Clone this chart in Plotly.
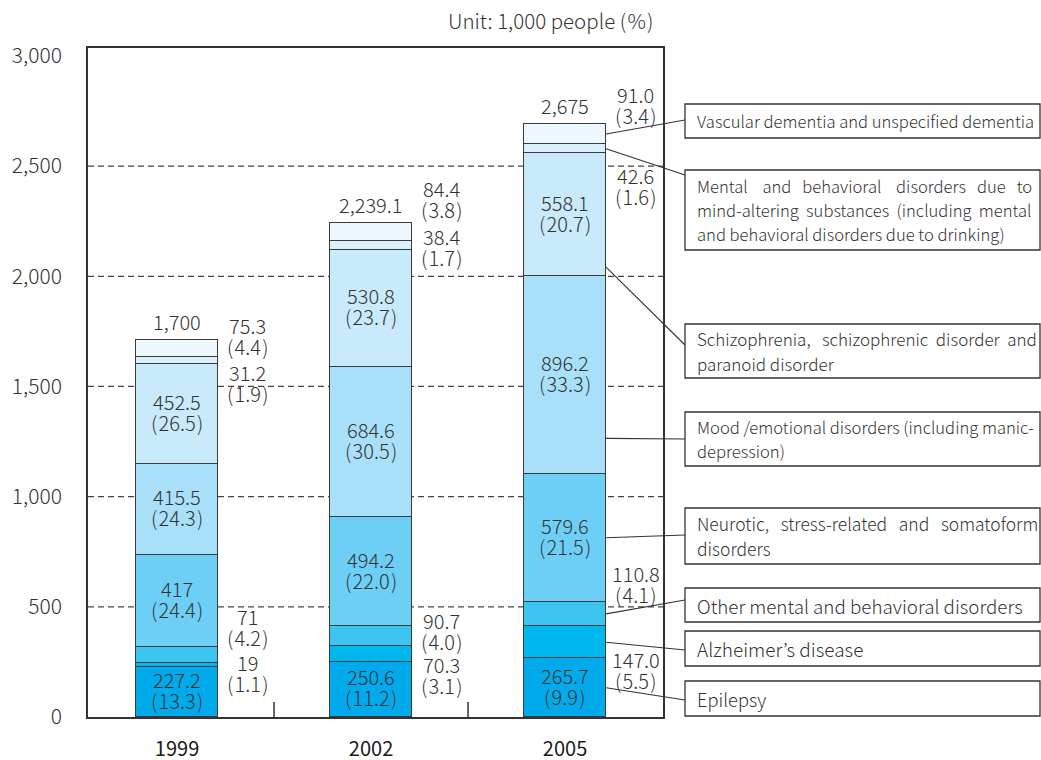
import plotly.graph_objects as go

# ---------------- data ----------------
years = ["1999", "2002", "2005"]
categories = [
    "Epilepsy",
    "Alzheimer’s disease",
    "Other mental and behavioral disorders",
    "Neurotic, stress-related and somatoform disorders",
    "Mood /emotional disorders (including manic-depression)",
    "Schizophrenia, schizophrenic disorder and paranoid disorder",
    "Mental and behavioral disorders due to mind-altering substances (including mental and behavioral disorders due to drinking)",
    "Vascular dementia and unspecified dementia",
]
epilepsy = [227.2, 250.6, 265.7]
alzheimer = [19, 70.3, 147.0]
other = [71, 90.7, 110.8]
neurotic = [417, 494.2, 579.6]
mood = [415.5, 684.6, 896.2]
schizo = [452.5, 530.8, 558.1]
substance = [31.2, 38.4, 42.6]
vascular = [75.3, 84.4, 91.0]

pct_epilepsy = [13.3, 11.2, 9.9]
pct_alzheimer = [1.1, 3.1, 5.5]
pct_other = [4.2, 4.0, 4.1]
pct_neurotic = [24.4, 22.0, 21.5]
pct_mood = [24.3, 30.5, 33.3]
pct_schizo = [26.5, 23.7, 20.7]
pct_substance = [1.9, 1.7, 1.6]
pct_vascular = [4.4, 3.8, 3.4]

totals = [1700, 2239.1, 2675]

y_ticks = [0, 500, 1000, 1500, 2000, 2500, 3000]
y_tick_labels = ["0", "500", "1,000", "1,500", "2,000", "2,500", "3,000"]

NB = "\u00a0"
legend_lines = [
    ["Epilepsy"],
    ["Alzheimer’s disease"],
    ["Other mental and behavioral disorders"],
    [f"Neurotic,{NB*3}stress-related{NB*3}and{NB*3}somatoform", "disorders"],
    ["Mood /emotional disorders (including manic-", "depression)"],
    [f"Schizophrenia,{NB*3}schizophrenic{NB*2}disorder{NB*2}and", "paranoid disorder"],
    [f"Mental{NB*4}and{NB*3}behavioral{NB*4}disorders{NB*3}due{NB*3}to",
     f"mind-altering{NB*2}substances{NB*2}(including{NB*2}mental",
     "and behavioral disorders due to drinking)"],
    ["Vascular dementia and unspecified dementia"],
]

series = [epilepsy, alzheimer, other, neurotic, mood, schizo, substance, vascular]
pcts = [pct_epilepsy, pct_alzheimer, pct_other, pct_neurotic, pct_mood,
        pct_schizo, pct_substance, pct_vascular]

# ---------------- style ----------------
colors = ["#00aaeb", "#00b7ee", "#3dc5f1", "#6dcff6", "#a9e0f9", "#c8eafa", "#daf1fb", "#ecf8fd"]
inside = [True, False, False, True, True, True, False, False]
# vertical pixel shifts of outside labels (per series, per year)
out_shift = {1: [-8, -21, -28], 2: [28, 5, 30], 6: [-22, -2, -37], 7: [13, 33, 29]}
# legend boxes (top, bottom) in px, and leader end y in px
boxes = [(681, 716), (631, 666), (588, 622), (508, 564), (412, 466), (324, 378), (170, 250), (104, 138)]
leader_end = [700, 650, 600, 535, 439, 345, 175, 120]
leader_frac = [0.5, 0.5, 0.5, 0.5, 0.18, 0.075, 0.5, 0.5]
legend_size = [18.3, 19, 18.8, 17.5, 16.6, 17, 16.6, 16.6]

FONT = "Noto Sans CJK JP"
TXT = "#333333"
W, H = 1041, 760
L, R, T, B = 88, 378, 48, 43
PW, PH = W - L - R, H - T - B
X0, X1 = -0.459, 2.505
YMAX = 3036
BAR_W = 0.423
HS = "\u200a"  # hair space inside parentheses
LINE_GAP = 10.5  # half distance between value line and percent line (px)


def px_x(px):
    return (px - L) / PW


def px_y(py):
    return (H - B - py) / PH


def dx(x):
    return (x - X0) / (X1 - X0)


def dy(y):
    return y / YMAX


xs = [0, 1, 2]
fig = go.Figure()
for name, vals, col in zip(categories, series, colors):
    fig.add_trace(go.Bar(
        x=xs, y=vals, name=name, width=BAR_W,
        marker=dict(color=col, line=dict(color="#3a3a3a", width=1.5)),
        hoverinfo="skip", showlegend=False,
    ))

annotations = []
shapes = []


def fmt(v, yi):
    return f"{v:g}" if yi == 0 else f"{v:.1f}"


# cumulative bottoms
bottoms = [[0, 0, 0]]
for s in series:
    bottoms.append([b + v for b, v in zip(bottoms[-1], s)])

VFONT = dict(family=FONT, size=20, color=TXT, weight=300)


def add_pair(x, y, val_txt, pct_txt, shift):
    annotations.append(dict(x=x, y=y, xref="x", yref="y", text=val_txt, showarrow=False,
                            yanchor="middle", yshift=shift + LINE_GAP, font=VFONT))
    annotations.append(dict(x=x, y=y, xref="x", yref="y", text=pct_txt, showarrow=False,
                            yanchor="middle", yshift=shift - LINE_GAP, font=VFONT))


for si, (vals, pc) in enumerate(zip(series, pcts)):
    for yi in range(3):
        mid = bottoms[si][yi] + vals[yi] / 2
        vt = fmt(vals[yi], yi)
        pt = f"({HS}{pc[yi]:.1f}{HS})"
        if inside[si]:
            add_pair(xs[yi], mid, vt, pt, 2)
        else:
            add_pair(xs[yi] + 0.365, mid, vt, pt, out_shift[si][yi])

for yi in range(3):
    annotations.append(dict(x=xs[yi], y=bottoms[-1][yi], xref="x", yref="y",
                            text=f"{totals[yi]:,}", showarrow=False, yanchor="bottom", yshift=2,
                            font=VFONT))

# unit
annotations.append(dict(x=px_x(656), y=px_y(20), xref="paper", yref="paper",
                        text=f"Unit: 1,000 people ({HS}%{HS})", showarrow=False,
                        xanchor="right", yanchor="middle",
                        font=dict(family=FONT, size=20.5, color=TXT, weight=300)))

# gridlines
for v in y_ticks[1:-1]:
    shapes.append(dict(type="line", xref="paper", yref="y", x0=0, x1=1, y0=v, y1=v,
                       line=dict(color="#444444", width=1.2, dash="6px,4px"), layer="below"))

# small category separators
for xv in [0.5, 1.5]:
    shapes.append(dict(type="line", xref="x", yref="paper", x0=xv, x1=xv, y0=0, y1=15 / PH,
                       line=dict(color="#333333", width=1.5)))

# legend boxes, texts, leader lines
bar_right = dx(2 + BAR_W / 2)
for si in range(8):
    top, bot = boxes[si]
    shapes.append(dict(type="rect", xref="paper", yref="paper",
                       x0=px_x(685), x1=px_x(1040), y0=px_y(bot), y1=px_y(top),
                       line=dict(color="#333333", width=1.3), fillcolor="rgba(0,0,0,0)"))
    lines = legend_lines[si]
    n = len(lines)
    cy = (top + bot) / 2
    for li, ln in enumerate(lines):
        py = cy + (li - (n - 1) / 2) * 24.5
        annotations.append(dict(x=px_x(695), y=px_y(py), xref="paper", yref="paper",
                                text=ln, showarrow=False, xanchor="left", yanchor="middle",
                                font=dict(family=FONT, size=legend_size[si], color=TXT, weight=300)))
    ys = bottoms[si][2] + series[si][2] * leader_frac[si]
    shapes.append(dict(type="line", xref="paper", yref="paper",
                       x0=bar_right, y0=dy(ys), x1=px_x(685), y1=px_y(leader_end[si]),
                       line=dict(color="#333333", width=1.1)))

fig.update_layout(
    barmode="stack",
    width=W, height=H,
    margin=dict(l=L, r=R, t=T, b=B, pad=0),
    paper_bgcolor="white", plot_bgcolor="white",
    bargap=0,
    annotations=annotations, shapes=shapes,
    font=dict(family=FONT, color=TXT),
    xaxis=dict(range=[X0, X1], tickvals=xs, ticktext=years, showgrid=False, zeroline=False,
               showline=True, mirror=True, linecolor="#333333", linewidth=1.5, ticks="",
               tickfont=dict(family=FONT, size=20, color="#1a1a1a"), ticklabelstandoff=13,
               automargin=False, fixedrange=True),
    yaxis=dict(range=[0, YMAX], tickvals=y_ticks, ticktext=y_tick_labels, showgrid=False,
               zeroline=False, showline=True, mirror=True, linecolor="#333333", linewidth=1.5,
               ticks="", tickfont=dict(family=FONT, size=21, color=TXT, weight=300),
               ticklabelstandoff=20, automargin=False, fixedrange=True),
)

fig.write_html(
    "out.html",
    config={"displayModeBar": False},
    post_script="document.body.style.margin='0';document.body.style.overflow='hidden';",
)
